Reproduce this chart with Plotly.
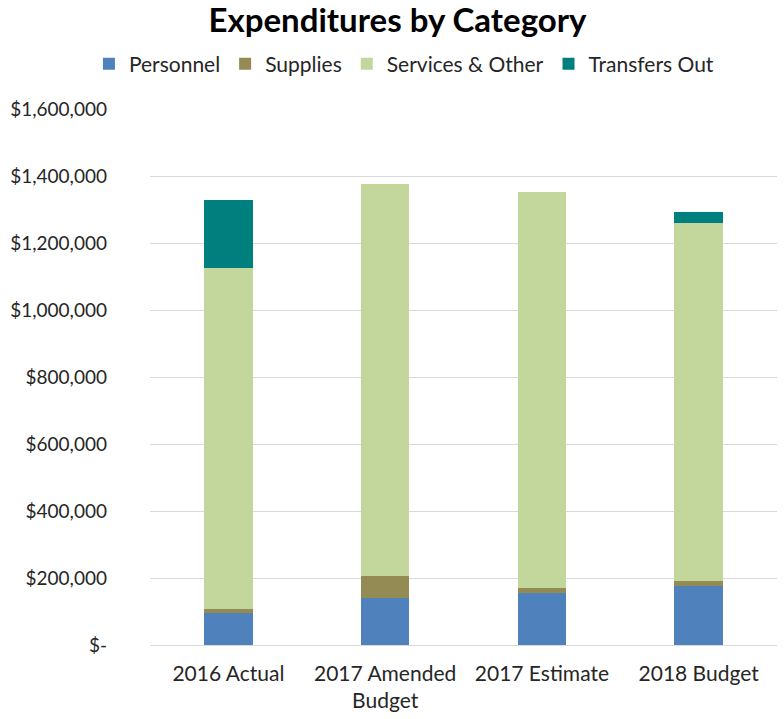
import plotly.graph_objects as go

categories = ["2016 Actual", "2017 Amended<br>Budget", "2017 Estimate", "2018 Budget"]
personnel = [95000, 139000, 154000, 177000]
supplies = [13000, 68000, 16000, 15000]
services_other = [1017000, 1168000, 1183000, 1068000]
transfers_out = [203000, 0, 0, 32000]

tick_values = [0, 200000, 400000, 600000, 800000, 1000000, 1200000, 1400000, 1600000]
tick_labels = ["$-", "$200,000", "$400,000", "$600,000", "$800,000",
               "$1,000,000", "$1,200,000", "$1,400,000", "$1,600,000"]

series = [
    ("Personnel", personnel, "#4F81BD"),
    ("Supplies", supplies, "#948A54"),
    ("Services & Other", services_other, "#C3D69B"),
    ("Transfers Out", transfers_out, "#007F7F"),
]

fig = go.Figure()
for name, values, color in series:
    fig.add_trace(go.Bar(
        name=name, x=categories, y=values,
        marker=dict(color=color, line=dict(width=0)),
    ))

font_family = "Lato, 'Open Sans', sans-serif"

fig.update_layout(
    barmode="stack",
    bargap=0.69,
    width=784, height=719,
    paper_bgcolor="white", plot_bgcolor="white",
    margin=dict(l=150, r=7, t=109, b=72),
    font=dict(family=font_family, size=19, color="#262626"),
    title=dict(
        text="<b>Expenditures by Category</b>",
        x=0.507, xanchor="center", y=0.972, yanchor="middle",
        xref="container", yref="container",
        font=dict(size=33, color="#000000", family=font_family),
    ),
    legend=dict(
        orientation="h", x=0.405, xanchor="center", y=1.084, yanchor="middle",
        font=dict(size=21, color="#262626"), traceorder="normal",
        itemwidth=30,
    ),
    xaxis=dict(
        showgrid=False, showline=False, ticks="",
        ticklabelstandoff=14,
        tickfont=dict(size=21, color="#262626"),
    ),
    yaxis=dict(
        range=[0, 1600000], tickvals=tick_values, ticktext=tick_labels,
        showgrid=True, gridcolor="#D9D9D9", gridwidth=1,
        zeroline=True, zerolinecolor="#D9D9D9", zerolinewidth=1,
        showline=False, ticks="", ticklabelstandoff=42,
        tickfont=dict(size=19, color="#262626"),
    ),
)

fig.write_html("out.html")
